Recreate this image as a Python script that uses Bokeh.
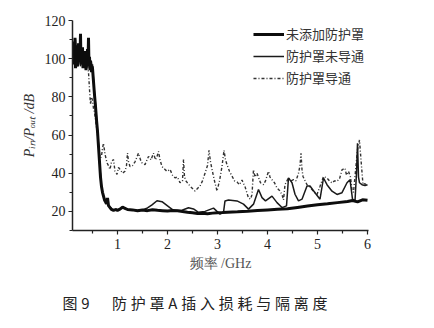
from bokeh.plotting import figure
from bokeh.models import Range1d, FixedTicker, Legend, LegendItem, Title
from bokeh.embed import file_html
from bokeh.resources import INLINE

# ---- data ----
freq_a = [0.10,0.11,0.12,0.13,0.14,0.15,0.16,0.17,0.18,0.19,0.20,0.21,0.22,0.23,0.24,0.25,0.26,0.27,0.28,0.29,
          0.30,0.31,0.32,0.33,0.34,0.35,0.36,0.37,0.38,0.39,0.40,0.41,0.42,0.43,0.44,0.45,0.46,0.47,0.48,0.49,0.50,
          0.52,0.54,0.56,0.58,0.60,0.62,0.64,0.66,0.68,0.70,0.72,0.74,0.76,0.78,0.80,0.82,0.85,0.88,0.92,0.96,
          1.00,1.05,1.10,1.15,1.20,1.30,1.40,1.50,1.60,1.70,1.80,1.90,2.00,2.10,2.20,2.30,2.40,2.50,2.60,2.70,
          2.80,2.90,3.00,3.10,3.20,3.40,3.60,3.80,4.00,4.20,4.40,4.60,4.80,5.00,5.20,5.40,5.60,5.70,5.80,5.90,6.00]
db_a = [103,109,97,106,100,111,95,104,99,107,96,102,108,98,104,101,113,97,103,99,
        106,95,101,98,104,97,100,94,99,96,105,98,111,96,101,94,99,97,93,96,95,
        88,81,75,68,62,54,46,38,33,30,28,26,25,24,27,23,22,21,20.5,21,
        20.6,21.2,22.2,21.6,21,20.8,20.4,20.7,20.4,20.9,20.6,20.4,20.2,20.5,20.3,20.0,19.6,19.3,18.9,19.0,
        18.8,19.1,19.3,19.4,19.6,19.8,20.1,20.5,20.8,21.1,21.4,22.1,22.8,23.5,24.0,24.6,25.2,25.7,25.0,26.1,25.8]

freq_b = [0.10,0.12,0.14,0.16,0.18,0.20,0.22,0.24,0.26,0.28,0.30,0.32,0.34,0.36,0.38,0.40,0.42,0.44,0.46,0.48,0.50,
          0.52,0.54,0.56,0.58,0.60,0.62,0.64,0.66,0.68,0.70,0.72,0.75,0.78,0.82,0.86,0.90,1.00,1.10,1.20,1.30,1.40,1.50,
          1.60,1.69,1.79,1.89,2.02,2.12,2.29,2.42,2.52,2.62,2.75,2.92,2.99,3.05,3.12,3.15,3.22,3.39,3.52,3.62,3.72,
          3.82,3.89,3.96,4.09,4.19,4.29,4.38,4.42,4.49,4.55,4.62,4.69,4.79,4.85,4.95,5.05,5.12,5.19,5.29,5.39,5.49,
          5.59,5.65,5.70,5.75,5.78,5.80,5.82,5.84,5.89,5.95,6.00]
db_b = [101,107,99,110,97,104,102,108,96,100,105,98,103,95,100,97,102,96,99,94,97,
        89,82,76,69,62,55,46,39,33,30,28,26,24.5,23,22,21,20.8,22,21,20.6,20.5,20.8,
        21.8,23.4,25.6,25.1,22.5,20.5,20.6,21.9,21.3,19.5,20.0,21.7,20.0,18.6,19.5,25.5,26.0,25.5,23.8,21.2,23.8,
        31.5,27.2,25.5,28.0,24.6,22.0,22.9,37.6,35.0,29.0,25.5,26.4,33.3,33.3,29.8,26.4,37.5,34.0,30.6,28.9,29.8,
        35.0,36.6,26.4,25.5,40,55.7,38,35.0,34.0,33.5,34.0]

freq_c = [0.10,0.12,0.14,0.16,0.18,0.20,0.22,0.24,0.26,0.28,0.30,0.32,0.34,0.36,0.38,0.40,
          0.42,0.44,0.46,0.48,0.50,0.52,0.54,0.56,0.58,0.60,0.62,0.64,0.66,0.68,0.70,0.72,0.75,0.79,0.82,0.85,
          0.88,0.92,0.95,0.99,1.02,1.05,1.10,1.15,1.18,1.20,1.22,1.25,1.30,1.35,1.42,1.46,1.49,1.55,1.62,1.67,
          1.72,1.76,1.79,1.82,1.85,1.89,1.95,1.99,2.05,2.10,2.15,2.20,2.25,2.30,2.32,2.34,2.37,2.45,2.50,2.55,
          2.60,2.65,2.70,2.75,2.80,2.83,2.86,2.89,2.94,2.99,3.04,3.09,3.13,3.16,3.19,3.24,3.29,3.34,3.39,3.44,
          3.49,3.55,3.62,3.66,3.69,3.72,3.75,3.79,3.86,3.92,3.96,4.02,4.05,4.09,4.14,4.19,4.24,4.29,4.32,4.35,
          4.42,4.47,4.52,4.57,4.62,4.65,4.67,4.69,4.71,4.79,4.84,4.89,4.94,4.99,5.05,5.12,5.19,5.24,5.29,5.34,
          5.39,5.44,5.49,5.55,5.58,5.62,5.66,5.69,5.72,5.75,5.80,5.84,5.87,5.91,5.95,6.00]
db_c = [100,106,98,108,95,103,100,106,97,102,104,99,101,96,99,97,
        93,84,76,80,78,74,72,68,64,60,55,50,48,49,53,55.7,50,45.4,44,42,
        46,47.2,41,39.4,43,42,40,41,44,50.5,46,43.5,44,46,50.5,47,45.4,44.5,48.8,47,
        50.5,47,48.8,51.4,47,43.5,42,41,42,39,37.6,38,35,36,47.2,38,35.9,33.3,32,30.7,
        32,33.3,36,40,44,52,46,42,36,30.7,36,43.5,52,47,44.5,41,38.5,36,35.4,34,
        36.4,33,27,26.5,28.8,41.9,38,40,35,34,36,41,38,36.6,35,32.3,31,28.8,26,34,
        37.6,36,36.6,36,40,44,50.5,42,38.3,34,33,31.4,30,28.8,33.1,38.3,37.5,36,34.9,36,
        35.8,37,41.8,42.6,39,41,38,31.4,30,38.3,52.3,57.4,47,34,34.5,33.5]

series_labels = ["未添加防护罩", "防护罩未导通", "防护罩导通"]
x_ticks = [1, 2, 3, 4, 5, 6]
x_minor = [0.5, 1.5, 2.5, 3.5, 4.5, 5.5]
y_ticks = [20, 40, 60, 80, 100, 120]
y_minor = [10, 30, 50, 70, 90, 110]
caption_text = "图\u20059\u2003\u2002" + "\u2005".join("防护罩A插入损耗与隔离度")

p = figure(width=434, height=328, output_backend="svg", toolbar_location=None,
           x_range=Range1d(0.1, 6.02), y_range=Range1d(10, 120),
           min_border_left=72, min_border_right=66, min_border_top=20, min_border_bottom=96)
p.outline_line_color = None
p.xgrid.visible = False
p.ygrid.visible = False
p.background_fill_color = "white"
p.border_fill_color = "white"

r_c = p.line(freq_c, db_c, line_color="#333333", line_width=1.4, line_dash="3 2 1 2")
r_b = p.line(freq_b, db_b, line_color="#1a1a1a", line_width=1.5)
r_a = p.line(freq_a, db_a, line_color="#0d0d0d", line_width=3.0)

for ax in (p.xaxis[0], p.yaxis[0]):
    ax.axis_line_color = "#222222"
    ax.axis_line_width = 1.5
    ax.major_tick_line_color = "#222222"
    ax.minor_tick_line_color = "#222222"
    ax.major_tick_line_width = 1.2
    ax.minor_tick_line_width = 1.2
    ax.major_tick_in = 0
    ax.major_tick_out = 4
    ax.minor_tick_in = 0
    ax.minor_tick_out = 3
    ax.major_label_text_font = "Liberation Serif"
    ax.major_label_text_font_size = "14px"
    ax.major_label_text_color = "#222222"

p.xaxis.ticker = FixedTicker(ticks=x_ticks, minor_ticks=x_minor)
p.yaxis.ticker = FixedTicker(ticks=y_ticks, minor_ticks=y_minor)
p.xaxis.major_label_standoff = 4
p.yaxis.major_label_standoff = 3

p.xaxis.axis_label = "频率 /GHz"
p.xaxis.axis_label_text_font = "Liberation Serif"
p.xaxis.axis_label_text_font_size = "14px"
p.xaxis.axis_label_text_font_style = "normal"
p.xaxis.axis_label_text_color = "#555555"
p.xaxis.axis_label_standoff = 4

p.yaxis.axis_label = "Pᵢₙ/Pₒᵤₜ /dB"
p.yaxis.axis_label_text_font = "Liberation Serif"
p.yaxis.axis_label_text_font_size = "14px"
p.yaxis.axis_label_text_font_style = "italic"
p.yaxis.axis_label_text_color = "#333333"
p.yaxis.axis_label_standoff = 5

legend = Legend(items=[LegendItem(label=series_labels[0], renderers=[r_a]),
                       LegendItem(label=series_labels[1], renderers=[r_b]),
                       LegendItem(label=series_labels[2], renderers=[r_c])],
                location="top_right")
legend.border_line_color = None
legend.background_fill_alpha = 0
legend.padding = 5
legend.spacing = 3
legend.label_text_font = "Noto Sans CJK SC"
legend.label_text_font_size = "13px"
legend.label_text_color = "#333333"
legend.glyph_width = 31
legend.glyph_height = 16
legend.label_height = 16
legend.label_standoff = 2
legend.margin = 4
p.add_layout(legend)

cap = Title(text=caption_text, align="left", offset=-10,
            text_font="Noto Sans CJK SC", text_font_size="15px", text_font_style="normal",
            text_color="#222222", standoff=32)
p.add_layout(cap, "below")

open("out.html", "w").write(file_html(p, INLINE))
